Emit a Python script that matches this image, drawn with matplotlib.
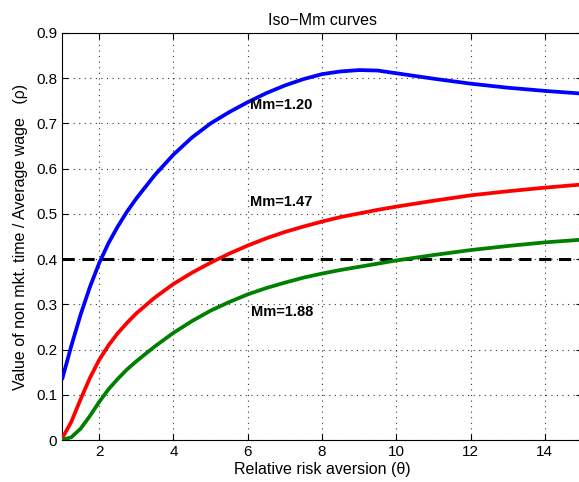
import matplotlib
matplotlib.use("Agg")
import matplotlib.pyplot as plt

theta = [1, 1.25, 1.5, 1.75, 2, 2.25, 2.5, 2.75, 3, 3.5, 4, 4.5, 5, 5.5, 6, 6.5, 7, 7.5,
         8, 8.5, 9, 9.5, 10, 11, 12, 13, 14, 15]
mm_120 = [0.133, 0.208, 0.277, 0.338, 0.391, 0.435, 0.472, 0.505, 0.534, 0.586, 0.631, 0.669,
          0.700, 0.725, 0.747, 0.767, 0.784, 0.798, 0.809, 0.815, 0.818, 0.817, 0.811, 0.799,
          0.788, 0.779, 0.772, 0.766]
mm_147 = [0.003, 0.040, 0.090, 0.137, 0.177, 0.209, 0.236, 0.259, 0.280, 0.315, 0.345, 0.370,
          0.392, 0.412, 0.430, 0.446, 0.460, 0.472, 0.483, 0.493, 0.501, 0.509, 0.516, 0.529,
          0.541, 0.550, 0.558, 0.565]
mm_188 = [0.000, 0.006, 0.025, 0.053, 0.084, 0.112, 0.135, 0.156, 0.174, 0.207, 0.237, 0.263,
          0.286, 0.305, 0.322, 0.336, 0.348, 0.359, 0.368, 0.376, 0.383, 0.390, 0.397, 0.409,
          0.420, 0.429, 0.437, 0.443]
ref_level = 0.4
labels = ["Mm=1.20", "Mm=1.47", "Mm=1.88"]
label_pos = [(6.05, 0.74), (6.05, 0.526), (6.1, 0.283)]
xticks = [2, 4, 6, 8, 10, 12, 14]
yticks = [0, 0.1, 0.2, 0.3, 0.4, 0.5, 0.6, 0.7, 0.8, 0.9]
yticklabels = ['0', '0.1', '0.2', '0.3', '0.4', '0.5', '0.6', '0.7', '0.8', '0.9']

plt.rcParams['font.family'] = ['Liberation Sans', 'DejaVu Sans']

fig = plt.figure(figsize=(5.79, 4.82), dpi=100)
W, H = 579, 482
ax = fig.add_axes([62 / W, (H - 440) / H, (582 - 62) / W, (440 - 33) / H])

lw = 2.7
style = dict(lw=lw, zorder=3, solid_joinstyle='round', solid_capstyle='butt')
ax.plot(theta, mm_120, color=(0, 0, 1), **style)
ax.plot(theta, mm_147, color=(1, 0, 0), **style)
ax.plot(theta, mm_188, color=(0, 0.5, 0), **style)
ax.axhline(ref_level, color='black', lw=2.2, ls=(0, (4, 2.5)), zorder=2)

for t, (x, y) in zip(labels, label_pos):
    ax.text(x, y, t, fontsize=10.5, fontweight='bold', ha='left', va='center')

ax.set_xlim(1, 15)
ax.set_ylim(0, 0.9)
ax.set_xticks(xticks)
ax.set_yticks(yticks)
ax.set_yticklabels(yticklabels)
ax.tick_params(direction='in', length=4, top=True, right=True, labelsize=11, width=0.8)
ax.grid(True, ls=(0, (1, 4)), color='#333333', lw=0.8)
for s in ax.spines.values():
    s.set_linewidth(0.8)

ax.set_title('Iso\u2212Mm curves', fontsize=11.5, pad=6)
ax.set_xlabel('Relative risk aversion (\u03b8)', fontsize=11.5, labelpad=2)
ax.set_ylabel('Value of non mkt. time / Average wage   (\u03c1)', fontsize=11.5, labelpad=6)

fig.savefig('out.png', dpi=100)
